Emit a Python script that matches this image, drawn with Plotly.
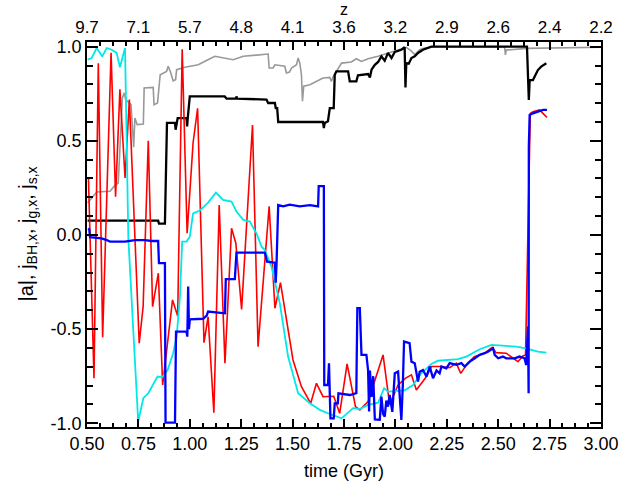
import plotly.graph_objects as go

# ---- spin magnitude |a| (two runs) ----
t_a_alt = [0.503, 0.547, 0.612, 0.639, 0.652, 0.664, 0.672, 0.681, 0.688, 0.714, 0.727, 0.733, 0.744,
           0.774, 0.778, 0.822, 0.826, 0.843, 0.856, 0.887, 0.895, 0.905, 0.919, 0.931, 0.936, 0.976,
           1.041, 1.098, 1.122, 1.211, 1.26, 1.381, 1.386, 1.405, 1.414, 1.462, 1.470, 1.485, 1.495,
           1.519, 1.527, 1.535, 1.543, 1.548, 1.554, 1.584, 1.616, 1.648, 1.681, 1.689, 1.697, 1.713,
           1.738, 1.786, 1.81, 1.835, 1.867, 1.916, 1.964, 2.029, 2.053, 2.078, 2.094, 2.118, 2.142,
           2.191, 2.531, 2.535, 2.539, 2.636, 3.0]
a_abs_alt = [0.170, 0.228, 0.232, 0.267, 0.276, 0.515, 0.728, 0.754, 0.719, 0.692, 0.466, 0.621, 0.586,
             0.589, 0.781, 0.784, 0.692, 0.701, 0.851, 0.869, 0.896, 0.869, 0.819, 0.825, 0.878, 0.891,
             0.904, 0.936, 0.949, 0.931, 0.949, 0.961, 0.887, 0.887, 0.904, 0.896, 0.860, 0.865, 0.887,
             0.904, 0.94, 0.913, 0.851, 0.71, 0.79, 0.798, 0.816, 0.834, 0.837, 0.816, 0.84, 0.869,
             0.913, 0.919, 0.936, 0.922, 0.936, 0.949, 0.967, 0.99, 0.997, 0.976, 0.958, 0.984, 0.993,
             1.0, 1.0, 0.956, 0.982, 0.991, 0.997]

t_a = [0.503, 0.846, 0.85, 0.879, 0.889, 0.928, 0.931, 0.935, 0.941, 0.984, 0.987, 0.99, 1.0, 1.17,
       1.179, 1.225, 1.227, 1.23, 1.373, 1.381, 1.414, 1.418, 1.425, 1.43, 1.648, 1.652, 1.656, 1.672,
       1.681, 1.700, 1.705, 1.713, 1.77, 1.778, 1.81, 1.818, 1.867, 1.876, 1.884, 1.9, 1.916, 1.932,
       1.948, 1.964, 1.981, 1.997, 2.029, 2.045, 2.049, 2.053, 2.065, 2.078, 2.094, 2.11, 2.134, 2.175,
       2.64, 2.649, 2.653, 2.669, 2.693, 2.709, 2.734]
a_abs = [0.076, 0.076, 0.06, 0.06, 0.595, 0.595, 0.559, 0.595, 0.621, 0.621, 0.577, 0.621, 0.736, 0.736,
         0.724, 0.724, 0.736, 0.724, 0.719, 0.701, 0.701, 0.674, 0.674, 0.6, 0.6, 0.568, 0.595, 0.604,
         0.674, 0.674, 0.851, 0.869, 0.869, 0.816, 0.816, 0.848, 0.855, 0.837, 0.878, 0.904, 0.919, 0.949,
         0.926, 0.967, 0.94, 0.972, 0.984, 0.997, 0.784, 0.913, 0.91, 0.94, 0.949, 0.967, 0.984, 1.0,
         1.0, 0.717, 0.823, 0.823, 0.876, 0.894, 0.912]

# ---- gas angular momentum direction, x component ----
t_gas = [0.507, 0.534, 0.555, 0.576, 0.617, 0.639, 0.66, 0.685, 0.706, 0.754, 0.773, 0.798, 0.819, 0.847,
         0.868, 0.916, 0.941, 0.963, 0.987, 1.016, 1.038, 1.069, 1.089, 1.117, 1.143, 1.171, 1.203, 1.224,
         1.252, 1.305, 1.332, 1.386, 1.414, 1.441, 1.502, 1.543, 1.588, 1.616, 1.648, 1.70, 1.729, 1.765,
         1.806, 1.827, 1.867, 1.94, 1.972, 2.013, 2.05, 2.078, 2.102, 2.151, 2.175, 2.224, 2.264, 2.296,
         2.318, 2.351, 2.384, 2.43, 2.471, 2.49, 2.539, 2.596, 2.62, 2.633, 2.656, 2.669, 2.701, 2.737]
jg_x = [0.30, -0.761, 0.912, -0.543, 0.968, 0.203, 0.774, 0.303, 0.719, -0.575, -0.381, 0.501, -0.381,
        -0.203, -0.797, -0.345, -0.43, 0.986, 0.009, 0.49, 0.673, -0.572, -0.434, -0.944, 0.159, -0.681,
        0.036, -0.044, -0.395, 0.584, -0.593, 0.152, -0.389, -0.253, -0.664, -0.806, -0.894, -0.788,
        -0.859, -0.857, -0.947, -0.685, -0.912, -0.929, -0.885, -0.637, -0.9, -0.797, -0.76, -0.743,
        -0.823, -0.752, -0.699, -0.699, -0.705, -0.681, -0.735, -0.681, -0.646, -0.63, -0.597, -0.625,
        -0.628, -0.673, -0.643, -0.637, 0.646, 0.655, 0.664, 0.625]

# ---- stellar angular momentum direction, x component ----
t_star = [0.503, 0.523, 0.547, 0.574, 0.596, 0.62, 0.644, 0.66, 0.685, 0.701, 0.749, 0.774, 0.798, 0.843,
          0.866, 0.892, 0.919, 0.936, 0.952, 0.963, 0.984, 1.0, 1.016, 1.049, 1.089, 1.127, 1.162, 1.203,
          1.227, 1.26, 1.292, 1.324, 1.349, 1.365, 1.397, 1.438, 1.478, 1.527, 1.584, 1.632, 1.672, 1.721,
          1.738, 1.794, 1.827, 1.867, 1.916, 1.945, 1.964, 2.045, 2.086, 2.126, 2.175, 2.207, 2.264, 2.304,
          2.345, 2.41, 2.467, 2.523, 2.588, 2.636, 2.693, 2.734]
js_x = [0.931, 0.94, 0.993, 0.949, 0.993, 0.984, 0.967, 0.891, 0.993, -0.016, -0.991, -0.867, -0.841,
        -0.752, -0.756, -0.717, -0.628, -0.54, -0.328, -0.035, -0.035, -0.009, 0.115, 0.13, 0.172, 0.225,
        0.186, 0.177, 0.124, 0.08, 0.071, 0.009, -0.062, -0.08, -0.168, -0.363, -0.646, -0.841, -0.894,
        -0.929, -0.947, -0.965, -0.974, -0.92, -0.925, -0.903, -0.891, -0.814, -0.832, -0.825, -0.797,
        -0.735, -0.685, -0.668, -0.664, -0.66, -0.646, -0.607, -0.584, -0.589, -0.593, -0.602, -0.62,
        -0.625]

# ---- black hole spin direction, x component ----
t_bh = [0.506, 0.511, 0.515, 0.571, 0.596, 0.612, 0.685, 0.733, 0.782, 0.814, 0.846, 0.85, 0.879, 0.882,
        0.928, 0.933, 0.984, 0.988, 0.992, 0.996, 1.0, 1.065, 1.082, 1.089, 1.171, 1.175, 1.219, 1.227,
        1.365, 1.376, 1.414, 1.418, 1.422, 1.43, 1.454, 1.486, 1.535, 1.584, 1.624, 1.627, 1.648, 1.652,
        1.654, 1.672, 1.677, 1.684, 1.70, 1.705, 1.72, 1.723, 1.778, 1.81, 1.812, 1.815, 1.827, 1.835,
        1.859, 1.867, 1.872, 1.876, 1.884, 1.892, 1.90, 1.908, 1.924, 1.932, 1.94, 1.948, 1.956, 1.964,
        1.972, 1.985, 1.997, 2.013, 2.02, 2.029, 2.036, 2.042, 2.069, 2.078, 2.094, 2.102, 2.11, 2.118,
        2.134, 2.151, 2.167, 2.183, 2.2, 2.215, 2.224, 2.248, 2.264, 2.296, 2.321, 2.337, 2.362, 2.386,
        2.41, 2.434, 2.45, 2.475, 2.483, 2.5, 2.523, 2.539, 2.58, 2.604, 2.628, 2.636, 2.645, 2.648,
        2.649, 2.653, 2.669, 2.693, 2.718, 2.737]
jbh_x = [0.035, 0.03, -0.012, -0.018, -0.027, -0.035, -0.035, -0.027, -0.027, -0.032, -0.032, -0.15,
         -0.15, -0.997, -0.997, -0.513, -0.513, -0.54, -0.274, -0.50, -0.448, -0.445, -0.428, -0.407,
         -0.416, -0.235, -0.235, -0.094, -0.094, -0.142, -0.147, -0.253, -0.15, 0.159, 0.152, 0.161,
         0.152, 0.158, 0.152, 0.259, 0.259, 0.259, -0.797, -0.797, -0.681, -0.974, -0.974, -0.894, -0.894,
         -0.841, -0.85, -0.84, -0.637, -0.389, -0.389, -0.637, -0.637, -0.717, -0.938, -0.72, -0.86,
         -0.75, -0.98, -0.982, -0.982, -0.859, -0.95, -0.965, -0.88, -0.912, -0.85, -0.94, -0.735,
         -0.726, -0.85, -0.982, -0.80, -0.566, -0.575, -0.673, -0.681, -0.743, -0.779, -0.726, -0.717,
         -0.752, -0.699, -0.761, -0.72, -0.735, -0.699, -0.708, -0.681, -0.69, -0.681, -0.699, -0.673,
         -0.655, -0.637, -0.628, -0.62, -0.602, -0.637, -0.655, -0.646, -0.655, -0.655, -0.646, -0.655,
         -0.69, -0.487, -0.841, 0.469, 0.637, 0.646, 0.655, 0.664, 0.664]

# ---- axes ----
time_ticks = [0.5, 0.75, 1.0, 1.25, 1.5, 1.75, 2.0, 2.25, 2.5, 2.75, 3.0]
time_labels = ["0.50", "0.75", "1.00", "1.25", "1.50", "1.75", "2.00", "2.25", "2.50", "2.75", "3.00"]
z_labels = ["9.7", "7.1", "5.7", "4.8", "4.1", "3.6", "3.2", "2.9", "2.6", "2.4", "2.2"]
y_ticks = [-1.0, -0.5, 0.0, 0.5, 1.0]
y_labels = ["-1.0", "-0.5", "0.0", "0.5", "1.0"]

FONT = "Liberation Sans, Arial, Helvetica, sans-serif"
TICK_SIZE = 18

fig = go.Figure()
series = [
    (t_a_alt, a_abs_alt, "#999999", 1.6),
    (t_a, a_abs, "#000000", 2.3),
    (t_gas, jg_x, "#ff0000", 1.6),
    (t_star, js_x, "#00e8e8", 1.8),
    (t_bh, jbh_x, "#0000ff", 2.3),
]
for t, v, col, w in series:
    fig.add_trace(go.Scatter(x=t, y=v, mode="lines", line=dict(color=col, width=w),
                             showlegend=False, hoverinfo="skip"))

# redshift axis along the top
fig.add_trace(go.Scatter(x=[], y=[], xaxis="x2", showlegend=False, hoverinfo="skip"))

axis_common = dict(showgrid=False, zeroline=False, showline=True, linecolor="black", linewidth=1.5)

fig.update_layout(
    width=637, height=486,
    margin=dict(l=87, r=36, t=42, b=59),
    paper_bgcolor="white", plot_bgcolor="white",
    xaxis=dict(range=[0.5, 3.0], tickvals=time_ticks, ticktext=time_labels,
               ticks="inside", ticklen=8, tickwidth=1.5, tickcolor="black", mirror=True,
               tickfont=dict(family=FONT, size=TICK_SIZE, color="black"),
               minor=dict(dtick=0.0625, tick0=0.5, ticks="inside", ticklen=4, tickwidth=1.5,
                          tickcolor="black"),
               **axis_common),
    xaxis2=dict(range=[0.5, 3.0], overlaying="x", side="top", tickvals=time_ticks, ticktext=z_labels,
                ticks="inside", ticklen=8, tickwidth=1.5, tickcolor="black",
                tickfont=dict(family=FONT, size=17, color="black"),
                minor=dict(dtick=0.0625, tick0=0.5, ticks="inside", ticklen=4, tickwidth=1.5,
                           tickcolor="black"),
                **axis_common),
    yaxis=dict(range=[-1.02, 1.025], tickvals=y_ticks, ticktext=y_labels,
               ticks="inside", ticklen=11, tickwidth=1.5, tickcolor="black", mirror="ticks",
               tickfont=dict(family=FONT, size=TICK_SIZE, color="black"),
               minor=dict(dtick=0.1, tick0=0.0, ticks="inside", ticklen=6, tickwidth=1.5,
                          tickcolor="black"),
               **axis_common),
    annotations=[
        dict(text="time (Gyr)", x=0.5, y=-0.115, xref="paper", yref="paper", showarrow=False,
             xanchor="center", yanchor="middle", font=dict(family=FONT, size=18, color="black")),
        dict(text="z", x=0.5, y=1.0, xref="paper", yref="paper", showarrow=False, borderpad=0,
             xanchor="center", yanchor="top", yshift=42, font=dict(family=FONT, size=16, color="black")),
        dict(text="|a|, j<sub>BH,x</sub>, j<sub>g,x</sub>, j<sub>s,x</sub>", x=0, y=0.5,
             xref="paper", yref="paper", showarrow=False, textangle=-90, xshift=-60,
             xanchor="center", yanchor="middle", font=dict(family=FONT, size=20, color="black")),
    ],
)

fig.write_html("out.html")
